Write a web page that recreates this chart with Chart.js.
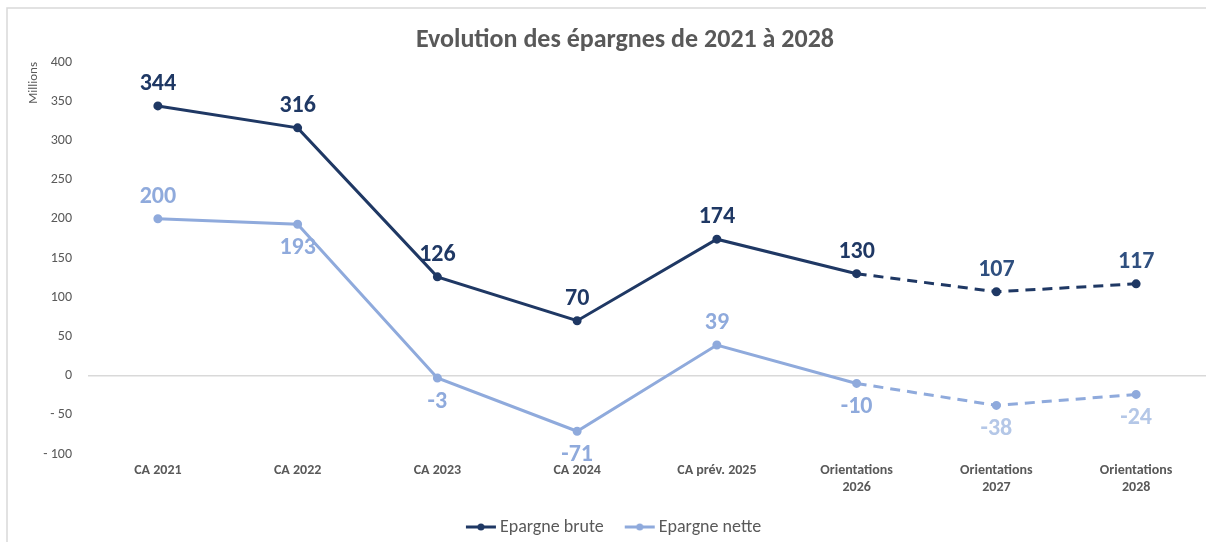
<!DOCTYPE html>
<html>
<head>
<meta charset="utf-8">
<script src="https://cdn.jsdelivr.net/npm/chart.js@4.4.1/dist/chart.umd.min.js"></script>
<style>
  html, body { margin: 0; padding: 0; background: #fff; }
  #wrap { width: 1206px; height: 542px; }
</style>
</head>
<body>
<div id="wrap"><canvas id="epargneChart" width="1206" height="542"></canvas></div>
<script>
const chartTitle = "Evolution des épargnes de 2021 à 2028";
const categories = ["CA 2021", "CA 2022", "CA 2023", "CA 2024", "CA prév. 2025",
  ["Orientations", "2026"], ["Orientations", "2027"], ["Orientations", "2028"]];
const epargneBrute = [344, 316, 126, 70, 174, 130, 107, 117];
const epargneNette = [200, 193, -3, -71, 39, -10, -38, -24];
const firstProjected = 5; // dashed from here on

const FONT = "Carlito, 'Open Sans', sans-serif";
const NAVY = "#1F3864";
const LIGHT = "#8FAADC";
const GREY = "#595959";

// where each value label goes: 1 = above point, -1 = below
const brutePlace = [1, 1, 1, 1, 1, 1, 1, 1];
const nettePlace = [1, -1, -1, -1, 1, -1, -1, -1];
const bruteLabelColors = [NAVY, NAVY, NAVY, NAVY, NAVY, NAVY, "#2F4F7F", "#2F4F7F"];
const netteLabelColors = [LIGHT, LIGHT, LIGHT, LIGHT, LIGHT, LIGHT, "#B4C7E7", "#B4C7E7"];

// line + dot legend marker, drawn on the right part so it sits close to the text
function legendSwatch(color) {
  const c = document.createElement("canvas");
  c.width = 44; c.height = 10;
  const g = c.getContext("2d");
  g.strokeStyle = color; g.lineWidth = 3;
  g.beginPath(); g.moveTo(12, 5); g.lineTo(42, 5); g.stroke();
  g.fillStyle = color;
  g.beginPath(); g.arc(27, 5, 3.5, 0, Math.PI * 2); g.fill();
  return c;
}

const framePlugin = {
  id: "frame",
  beforeDraw(chart) {
    const ctx = chart.ctx;
    ctx.save();
    ctx.strokeStyle = "#d9d9d9";
    ctx.lineWidth = 1.5;
    ctx.beginPath();
    ctx.moveTo(7, chart.height);
    ctx.lineTo(7, 8);
    ctx.lineTo(chart.width, 8);
    ctx.stroke();
    ctx.fillStyle = GREY;
    ctx.font = "bold 26px " + FONT;
    ctx.textAlign = "center";
    ctx.textBaseline = "middle";
    ctx.fillText(chartTitle, 625, 40);
    ctx.restore();
  }
};

const valueLabels = {
  id: "valueLabels",
  afterDatasetsDraw(chart) {
    const ctx = chart.ctx;
    const places = [brutePlace, nettePlace];
    const colors = [bruteLabelColors, netteLabelColors];
    ctx.save();
    ctx.font = "bold 24px " + FONT;
    ctx.textAlign = "center";
    ctx.textBaseline = "middle";
    chart.data.datasets.forEach((ds, d) => {
      chart.getDatasetMeta(d).data.forEach((pt, i) => {
        const off = places[d][i] > 0 ? -22 : 24;
        ctx.fillStyle = colors[d][i];
        ctx.fillText(String(ds.data[i]), pt.x, pt.y + off);
      });
    });
    ctx.restore();
  }
};

const dashed = ctx => ctx.p0DataIndex >= firstProjected ? [10, 7] : undefined;

new Chart(document.getElementById("epargneChart"), {
  type: "line",
  data: {
    labels: categories,
    datasets: [
      {
        label: "Epargne brute",
        data: epargneBrute,
        borderColor: NAVY,
        backgroundColor: NAVY,
        borderWidth: 3,
        pointRadius: 3,
        tension: 0,
        segment: { borderDash: dashed }
      },
      {
        label: "Epargne nette",
        data: epargneNette,
        borderColor: LIGHT,
        backgroundColor: LIGHT,
        borderWidth: 3,
        pointRadius: 3,
        tension: 0,
        segment: { borderDash: dashed }
      }
    ]
  },
  options: {
    responsive: false,
    animation: false,
    layout: { autoPadding: false, padding: { left: 16, right: 0, top: 62, bottom: -4 } },
    plugins: {
      title: { display: false },
      legend: {
        position: "bottom",
        labels: {
          usePointStyle: true,
          pointStyleWidth: 30,
          color: GREY,
          font: { family: FONT, size: 18 },
          padding: 16,
          generateLabels(chart) {
            return chart.data.datasets.map((ds, i) => ({
              text: ds.label,
              fontColor: GREY,
              pointStyle: legendSwatch(ds.borderColor),
              datasetIndex: i,
              lineWidth: 0
            }));
          }
        }
      },
      tooltip: { enabled: false }
    },
    scales: {
      x: {
        offset: true,
        grid: { display: false, drawTicks: false },
        border: { display: false },
        ticks: {
          color: GREY,
          font: { family: FONT, size: 14, weight: "bold" },
          padding: 8,
          maxRotation: 0
        },
        afterFit(scale) { scale.height = 48; }
      },
      y: {
        min: -100,
        max: 400,
        grid: {
          drawTicks: false,
          color: c => c.tick && c.tick.value === 0 ? "#d9d9d9" : "transparent",
          lineWidth: 1.5
        },
        border: { display: false },
        ticks: {
          stepSize: 50,
          color: GREY,
          font: { family: FONT, size: 14 },
          padding: 16,
          callback: v => v < 0 ? "- " + Math.abs(v) : String(v)
        },
        title: {
          display: true,
          text: "Millions",
          align: "end",
          color: GREY,
          font: { family: FONT, size: 13 },
          padding: { top: 10, bottom: 0 }
        },
        afterFit(scale) { scale.width = 72; }
      }
    }
  },
  plugins: [framePlugin, valueLabels]
});
</script>
</body>
</html>
